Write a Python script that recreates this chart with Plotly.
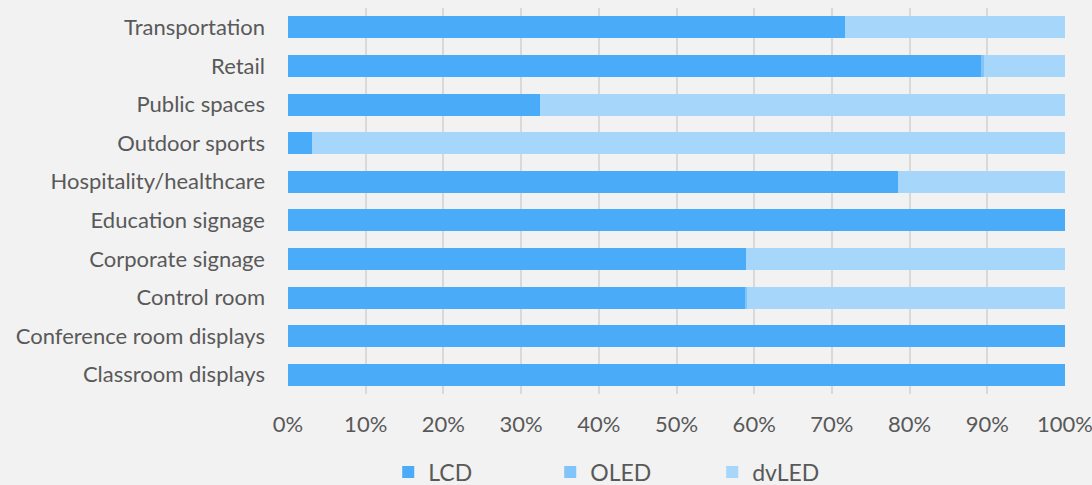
import plotly.graph_objects as go

categories = ["Classroom displays", "Conference room displays", "Control room", "Corporate signage",
              "Education signage", "Hospitality/healthcare", "Outdoor sports", "Public spaces",
              "Retail", "Transportation"]
lcd = [100, 100, 58.8, 59.0, 100, 78.5, 3.1, 32.4, 89.2, 71.7]
oled = [0, 0, 0.3, 0, 0, 0, 0, 0, 0.4, 0]
dvled = [0, 0, 40.9, 41.0, 0, 21.5, 96.9, 67.6, 10.4, 28.3]
tick_vals = [0, 10, 20, 30, 40, 50, 60, 70, 80, 90, 100]
tick_text = ["0%", "10%", "20%", "30%", "40%", "50%", "60%", "70%", "80%", "90%", "100%"]

series = [("LCD", lcd, "#4AACF8"), ("OLED", oled, "#80C4F9"), ("dvLED", dvled, "#A6D6FA")]

fig = go.Figure()
for name, vals, color in series:
    fig.add_trace(go.Bar(y=categories, x=vals, name=name, orientation="h",
                         marker=dict(color=color, line=dict(width=0))))

fig.update_layout(
    barmode="stack", bargap=0.43,
    width=1092, height=485,
    paper_bgcolor="#F2F2F2", plot_bgcolor="#F2F2F2",
    margin=dict(l=288, r=27, t=8, b=91, autoexpand=False),
    font=dict(family="Lato, Open Sans, sans-serif", size=22, color="#595959"),
    legend=dict(orientation="h", x=0.129, xanchor="left", y=-0.202, yanchor="middle",
                font=dict(size=23), itemwidth=30, traceorder="normal", entrywidth=117,
                itemsizing="constant"),
    xaxis=dict(range=[0, 100], tickvals=tick_vals, ticktext=tick_text, automargin=False,
               showgrid=True, gridcolor="#D9D9D9", gridwidth=2, zeroline=False,
               ticklabeloverflow="allow",
               ticks="", ticklabelstandoff=15, fixedrange=True),
    yaxis=dict(showgrid=False, ticks="", ticklabelstandoff=22, fixedrange=True, automargin=False),
)

fig.write_html("out.html", config={"displayModeBar": False},
               post_script="document.body.style.margin='0';document.body.style.background='#F2F2F2';")
